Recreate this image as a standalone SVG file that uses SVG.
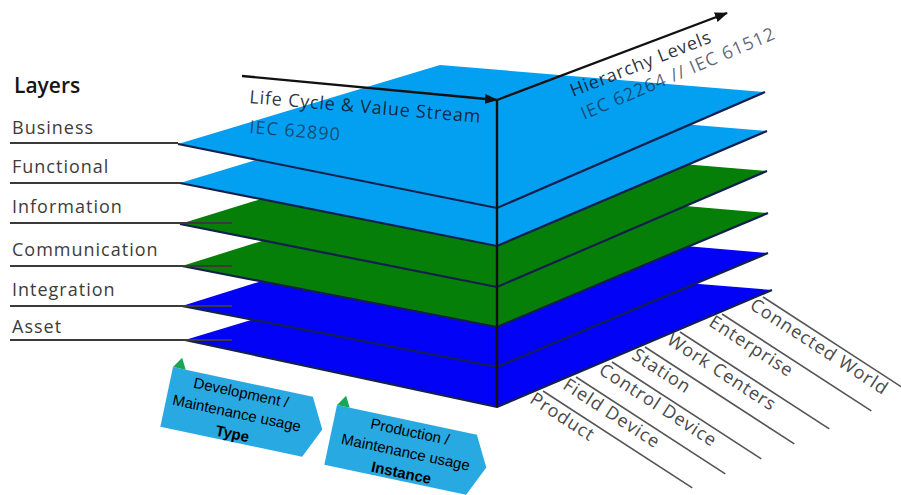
<svg xmlns="http://www.w3.org/2000/svg" width="901" height="495" viewBox="0 0 901 495">
  <defs>
    <marker id="arrowhead" viewBox="0 0 13 10" refX="12" refY="5" markerWidth="13" markerHeight="10" markerUnits="userSpaceOnUse" orient="auto">
      <path d="M0,0 L13,5 L0,10 z" fill="#111"/>
    </marker>
    <style>
      .sky { fill: #03a0f2; }
      .grn { fill: #067f08; }
      .blu { fill: #0202f6; }
      .edge { fill: none; stroke: #13204d; stroke-width: 2.2; stroke-linejoin: round; }
      .lbl-line { stroke: #3a3a3a; stroke-width: 2; }
      .lbl { font-family: "Open Sans", "Liberation Sans", sans-serif; font-size: 18px; letter-spacing: 1px; fill: #3c3c3c; }
      .axis { stroke: #111; stroke-width: 2.4; fill: none; }
      .axis-title { font-family: "Open Sans", "Liberation Sans", sans-serif; font-size: 18px; letter-spacing: 0.8px; fill: #14182a; fill-opacity: 0.9; }
      .axis-std { font-family: "Open Sans", "Liberation Sans", sans-serif; font-size: 18px; letter-spacing: 1px; fill: #1f2a44; fill-opacity: 0.72; }
      .lvl-line { stroke: #555; stroke-width: 1.6; }
      .lvl { font-family: "Open Sans", "Liberation Sans", sans-serif; font-size: 18px; letter-spacing: 1px; fill: #4a4a4a; }
      .tag { fill: #29a9e1; }
      .tag-mark { fill: #17a653; }
      .tag-text { font-family: "Liberation Sans", Arial, sans-serif; font-size: 15px; fill: #000; text-anchor: middle; }
    </style>
  </defs>

  <!-- layer stack, drawn bottom to top -->
  <g id="layer-asset">
    <polygon class="blu" points="185,340 440,263 772,290 497,407"/>
    <polyline class="edge" points="185,340 497,407 772,290"/>
    <line class="lbl-line" x1="10" y1="340" x2="232" y2="340"/>
    <text class="lbl" x="12" y="333">Asset</text>
  </g>
  <g id="layer-integration">
    <polygon class="blu" points="182,306 440,225 768,253 497,367"/>
    <polyline class="edge" points="182,306 497,367 768,253"/>
    <line class="lbl-line" x1="10" y1="306" x2="232" y2="306"/>
    <text class="lbl" x="12" y="296">Integration</text>
  </g>
  <g id="layer-communication">
    <polygon class="grn" points="182,266 440,185 768,213 497,327"/>
    <polyline class="edge" points="182,266 497,327 768,213"/>
    <line class="lbl-line" x1="10" y1="266" x2="232" y2="266"/>
    <text class="lbl" x="12" y="256">Communication</text>
  </g>
  <g id="layer-information">
    <polygon class="grn" points="180,224 440,144 767,171 497,287"/>
    <polyline class="edge" points="180,224 497,287 767,171"/>
    <line class="lbl-line" x1="10" y1="223" x2="232" y2="223"/>
    <text class="lbl" x="12" y="213">Information</text>
  </g>
  <g id="layer-functional">
    <polygon class="sky" points="180,183 440,104 767,131 497,246"/>
    <polyline class="edge" points="180,183 497,246 767,131"/>
    <line class="lbl-line" x1="10" y1="183" x2="180" y2="183"/>
    <text class="lbl" x="12" y="173">Functional</text>
  </g>
  <g id="layer-business">
    <polygon class="sky" points="178,144 440,65 765,92 497,208"/>
    <polyline class="edge" points="178,144 497,208 765,92"/>
    <line class="lbl-line" x1="10" y1="143" x2="178" y2="143"/>
    <text class="lbl" x="12" y="134">Business</text>
  </g>

  <text id="layers-title" x="14" y="93" font-family="'Open Sans', 'Liberation Sans', sans-serif" font-size="21" font-weight="600" fill="#151515">Layers</text>

  <!-- axes -->
  <g id="connectors">
    <line class="axis" x1="497" y1="100" x2="497" y2="407"/>
    <line class="axis" x1="242" y1="76" x2="497" y2="100" marker-end="url(#arrowhead)"/>
    <line class="axis" x1="497" y1="100" x2="727" y2="13" marker-end="url(#arrowhead)"/>
  </g>

  <g id="axis-life-cycle">
    <text class="axis-title" transform="translate(249,103) rotate(4.9)">Life Cycle &amp; Value Stream</text>
    <text class="axis-std" transform="translate(249,133) rotate(4.9)">IEC 62890</text>
  </g>
  <g id="axis-hierarchy">
    <text class="axis-title" transform="translate(573,97) rotate(-21.5)" letter-spacing="1.6">Hierarchy Levels</text>
    <text class="axis-std" transform="translate(584,120) rotate(-23)" letter-spacing="1.3">IEC 62264 // IEC 61512</text>
  </g>

  <!-- hierarchy levels along the front-right edge -->
  <g id="hierarchy-levels">
    <g id="level-product" transform="translate(543,391) rotate(33)">
      <line class="lvl-line" x1="0" y1="0" x2="178" y2="0"/>
      <text class="lvl" x="-6" y="17">Product</text>
    </g>
    <g id="level-field-device" transform="translate(576,377) rotate(33)">
      <line class="lvl-line" x1="0" y1="0" x2="178" y2="0"/>
      <text class="lvl" x="-6" y="17">Field Device</text>
    </g>
    <g id="level-control-device" transform="translate(612,362) rotate(33)">
      <line class="lvl-line" x1="0" y1="0" x2="178" y2="0"/>
      <text class="lvl" x="-6" y="17">Control Device</text>
    </g>
    <g id="level-station" transform="translate(645,347) rotate(33)">
      <line class="lvl-line" x1="0" y1="0" x2="178" y2="0"/>
      <text class="lvl" x="-6" y="17">Station</text>
    </g>
    <g id="level-work-centers" transform="translate(680,332) rotate(33)">
      <line class="lvl-line" x1="0" y1="0" x2="178" y2="0"/>
      <text class="lvl" x="-6" y="17">Work Centers</text>
    </g>
    <g id="level-enterprise" transform="translate(722,314) rotate(33)">
      <line class="lvl-line" x1="0" y1="0" x2="178" y2="0"/>
      <text class="lvl" x="-6" y="17">Enterprise</text>
    </g>
    <g id="level-connected-world" transform="translate(763,297) rotate(33)">
      <line class="lvl-line" x1="0" y1="0" x2="178" y2="0"/>
      <text class="lvl" x="-6" y="17">Connected World</text>
    </g>
  </g>

  <!-- life cycle tags -->
  <g id="tag-type" transform="translate(173,367) rotate(12)">
    <polygon class="tag" points="0,0 143,0 159,30 145,61 0,61"/>
    <polygon class="tag-mark" points="0,0 7,-11 13,0"/>
    <text class="tag-text" x="72" y="16">Development /</text>
    <text class="tag-text" x="72" y="37">Maintenance usage</text>
    <text class="tag-text" x="72" y="58" font-weight="bold">Type</text>
  </g>
  <g id="tag-instance" transform="translate(337,405) rotate(12)">
    <polygon class="tag" points="0,0 143,0 159,30 145,61 0,61"/>
    <polygon class="tag-mark" points="0,0 7,-11 13,0"/>
    <text class="tag-text" x="77" y="16">Production /</text>
    <text class="tag-text" x="77" y="37">Maintenance usage</text>
    <text class="tag-text" x="77" y="58" font-weight="bold">Instance</text>
  </g>
</svg>
